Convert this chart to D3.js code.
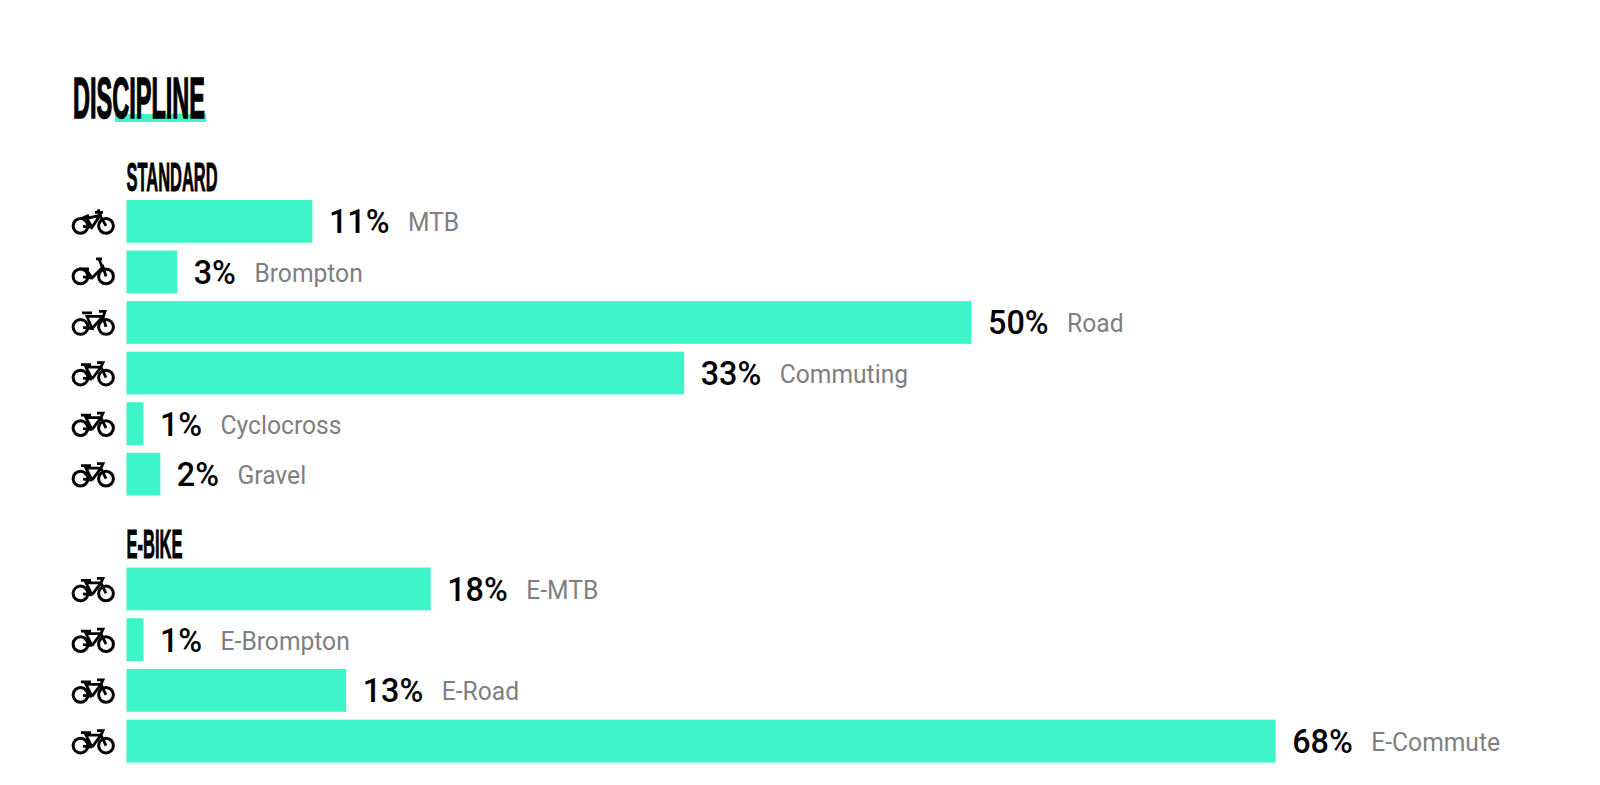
<!DOCTYPE html>
<html><head><meta charset="utf-8">
<script src="https://cdn.jsdelivr.net/npm/d3@7"></script>
<style>
html,body{margin:0;padding:0;background:#fff}
svg{display:block}
text{font-family:Roboto,sans-serif}
.pct{font-size:33px;font-weight:500;fill:#000}
.lab{font-size:25px;font-weight:400;fill:#7f7f7f}
.head{font-family:"Liberation Sans Narrow","Liberation Sans",sans-serif;font-weight:700;fill:#000;stroke:#000}
</style></head><body>
<svg id="c" width="1600" height="785"></svg>
<script>
const standardCats=["MTB","Brompton","Road","Commuting","Cyclocross","Gravel"];
const standardVals=[11,3,50,33,1,2];
const ebikeCats=["E-MTB","E-Brompton","E-Road","E-Commute"];
const ebikeVals=[18,1,13,68];
const title="DISCIPLINE", groupA="STANDARD", groupB="E-BIKE";
const colour="#3df5c9";

const svg=d3.select("#c");
const x=d3.scaleLinear().domain([0,100]).range([126.5,1816.5]);
const yA=d3.scaleBand().domain(standardCats).range([200,495.5]).paddingInner(0.155).paddingOuter(0);
const yB=d3.scaleBand().domain(ebikeCats).range([567.5,762.5]).paddingInner(0.155).paddingOuter(0);

const defs=svg.append("defs");
function bike(id,frame){
  const s=defs.append("g").attr("id",id).attr("fill","none").attr("stroke","#000");
  s.append("circle").attr("cx",8.5).attr("cy",4.5).attr("r",7.4).attr("stroke-width",3);
  s.append("circle").attr("cx",34).attr("cy",4.5).attr("r",7.4).attr("stroke-width",3);
  s.append("path").attr("d",frame).attr("stroke-width",2.8);
}
const basicFrame="M13 -1L20 6L14 -6L29 -6L34 4.5M20 6L29 -6M9 -8.5L19 -8.5M25 -10.5L31 -10.5L29 -6M11 5L20 6";
bike("mtb","M12 0L15 -3L28 -6L34 4.5M15 -3L20 6L28 -6M10 -3L17 -6M26 -12L29 -5M23 -9L31 -9M11 5L20 6");
bike("fold","M11 5L20 6L31 -5L34 4.5M14 -3L20 6M7 -3L17 -3M27 -13L31 -3M24 -13L30 -13");
bike("road","M11 5L20 6L15 -6L31 -6L34 4.5M20 6L31 -6M10 -9.5L20 -9.5M27 -11L33 -11L31 -5");
bike("city",basicFrame);

function drawGroup(cats,vals,y,icons){
  const g=svg.append("g");
  const rows=g.selectAll("g").data(cats.map((c,i)=>({c,v:vals[i],icon:icons[i]}))).join("g");
  rows.append("use").attr("href",d=>"#"+d.icon)
    .attr("transform",d=>`translate(72,${y(d.c)+y.bandwidth()/2})`);
  rows.append("rect").attr("x",x(0)).attr("y",d=>y(d.c)).attr("width",d=>x(d.v)-x(0)).attr("height",y.bandwidth()).attr("fill",colour);
  rows.each(function(d){
    const r=d3.select(this), cy=y(d.c)+y.bandwidth()/2;
    const p=r.append("text").attr("class","pct").attr("x",x(d.v)+16.5).attr("y",cy+12).text(d.v+"%");
    const pw=p.node().getComputedTextLength()*0.98;
    p.attr("textLength",pw).attr("lengthAdjust","spacingAndGlyphs");
    const l=r.append("text").attr("class","lab").attr("x",x(d.v)+16.5+pw+18.5).attr("y",cy+10).text(d.c);
    l.attr("textLength",l.node().getComputedTextLength()*0.985).attr("lengthAdjust","spacingAndGlyphs");
  });
}
const iconsA=["mtb","fold","road","city","city","city"], iconsB=["city","city","city","city"];
drawGroup(standardCats,standardVals,yA,iconsA);
drawGroup(ebikeCats,ebikeVals,yB,iconsB);

svg.append("rect").attr("x",115).attr("y",114).attr("width",91).attr("height",8).attr("fill",colour);
function head(t,xp,yp,size,w,sw){
  return svg.append("text").attr("class","head").attr("x",xp).attr("y",yp).attr("font-size",size).attr("stroke-width",sw)
    .attr("textLength",w).attr("lengthAdjust","spacingAndGlyphs").text(t);
}
head(title,73,118,57,132,1.5);
head(groupA,126.5,191,40,91,0.9);
head(groupB,126.5,558,40,56,0.9);
</script></body></html>
